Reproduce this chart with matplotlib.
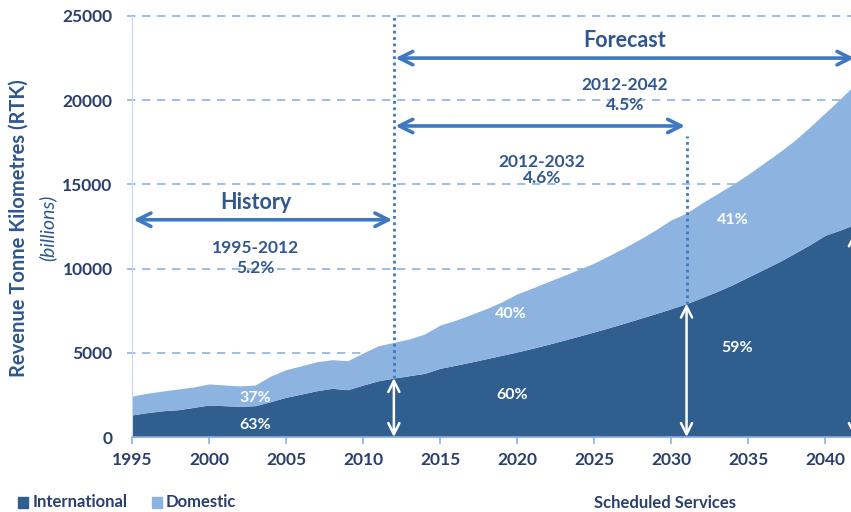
import matplotlib
matplotlib.use("agg")
import matplotlib.pyplot as plt
import numpy as np

years = list(range(1995, 2043))
international = [1310, 1450, 1560, 1620, 1760, 1900, 1860, 1820, 1860, 2100,
                 2360, 2550, 2750, 2890, 2810, 3090, 3340, 3500, 3640, 3780,
                 4080, 4260, 4450, 4650, 4850, 5050, 5270, 5500, 5740, 5990,
                 6240, 6500, 6770, 7050, 7330, 7620, 7920, 8280, 8650, 9050,
                 9500, 9950, 10400, 10900, 11420, 11980, 12300, 12650]
domestic = [1120, 1150, 1170, 1230, 1210, 1250, 1230, 1210, 1230, 1520,
            1640, 1680, 1720, 1700, 1720, 1900, 2080, 2120, 2180, 2340,
            2570, 2670, 2820, 2970, 3170, 3450, 3580, 3720, 3840, 3960,
            4090, 4290, 4490, 4710, 4970, 5280, 5380, 5620, 5800, 5950,
            6100, 6300, 6500, 6700, 6980, 7270, 7800, 8350]

x_ticks = [1995, 2000, 2005, 2010, 2015, 2020, 2025, 2030, 2035, 2040]
y_ticks = [0, 5000, 10000, 15000, 20000, 25000]

dark = "#305E8F"
light = "#8DB3E0"
navy = "#2B3F6E"
text_blue = "#2F5790"
arrow_blue = "#3D78C0"
grid_blue = "#8DB3E2"

plt.rcParams['font.family'] = ['Lato', 'DejaVu Sans']

fig = plt.figure(figsize=(8.51, 5.12), dpi=100)
ax = fig.add_axes([132/851, 75/512, 724/851, 421/512])

intl = np.array(international)
dom = np.array(domestic)
total = intl + dom

for yv in y_ticks[1:]:
    ax.plot([1994.7, 2042], [yv, yv], color=grid_blue, lw=1.2, ls=(0, (5, 4)),
            zorder=0, clip_on=False)

ax.fill_between(years, 0, intl, color=dark, lw=0, zorder=2)
ax.fill_between(years, intl, total, color=light, lw=0, zorder=2)

ax.set_xlim(1995, 2042)
ax.set_ylim(0, 25000)
ax.set_xticks(x_ticks)
ax.set_yticks(y_ticks)
ax.tick_params(axis='x', colors=grid_blue, length=5, width=1.2, pad=6,
               labelcolor=navy, labelsize=12.5)
ax.tick_params(axis='y', length=0, pad=14, labelcolor=navy, labelsize=12.5)
for lab in ax.get_xticklabels() + ax.get_yticklabels():
    lab.set_fontweight('bold')
for s in ['top', 'right']:
    ax.spines[s].set_visible(False)
ax.spines['left'].set_color('#C5D8F0')
ax.spines['bottom'].set_color(grid_blue)
ax.spines['bottom'].set_linewidth(1.2)

fig.text(0.022, 0.555, "Revenue Tonne Kilometres (RTK)", rotation=90,
         ha='center', va='center', fontsize=14.5, fontweight='bold', color=text_blue)
fig.text(0.056, 0.555, "(billions)", rotation=90, ha='center', va='center',
         fontsize=14, style='italic', color=text_blue)

# vertical dotted markers
i12 = years.index(2012)
ax.plot([2012, 2012], [intl[i12], 25000], color=arrow_blue, lw=2, ls=(0, (1, 1.3)), zorder=3)
i31 = years.index(2031)
ax.plot([2031, 2031], [intl[i31], 17900], color=arrow_blue, lw=2, ls=(0, (1, 1.3)), zorder=3)

def darrow(x0, x1, y0, y1, color, lw=2.6, ms=24):
    ax.annotate("", xy=(x1, y1), xytext=(x0, y0),
                arrowprops=dict(arrowstyle='<->', color=color, lw=lw,
                                mutation_scale=ms, shrinkA=0, shrinkB=0),
                zorder=4, annotation_clip=False)

darrow(1995.1, 2011.9, 12900, 12900, arrow_blue)
darrow(2012.1, 2041.9, 22500, 22500, arrow_blue)
darrow(2012.1, 2030.9, 18470, 18470, arrow_blue)
darrow(2012, 2012, 0, intl[i12], 'white', lw=1.8, ms=20)
darrow(2031, 2031, 0, intl[i31], 'white', lw=1.8, ms=20)
darrow(2041.9, 2041.9, 0, intl[-1] - 500, 'white', lw=1.8, ms=20)

def label(x, y, s, size=12.5, color=text_blue):
    ax.text(x, y, s, ha='center', va='center', fontsize=size,
            fontweight='bold', color=color, zorder=5)

label(2003.05, 13900, "History", size=15.5)
label(2003.0, 11220, "1995-2012")
label(2003.0, 10035, "5.2%")
label(2027.0, 23570, "Forecast", size=15.5)
label(2027.0, 20900, "2012-2042")
label(2027.0, 19700, "4.5%")
label(2021.6, 16330, "2012-2032")
label(2021.6, 15380, "4.6%")

for x, y, s in [(2003.0, 2310, "37%"), (2003.0, 710, "63%"),
                (2019.6, 7300, "40%"), (2019.7, 2490, "60%"),
                (2034.0, 12880, "41%"), (2034.3, 5280, "59%")]:
    label(x, y, s, size=11.5, color='white')

# legend row
fig.patches.append(plt.Rectangle((18/851, 1 - 508/512), 10/851, 11/512,
                                 transform=fig.transFigure, color=dark))
fig.text(33/851, 1 - 502/512, "International", va='center', fontsize=12,
         fontweight='bold', color=navy)
fig.patches.append(plt.Rectangle((152/851, 1 - 508/512), 10/851, 11/512,
                                 transform=fig.transFigure, color=light))
fig.text(166/851, 1 - 502/512, "Domestic", va='center', fontsize=12,
         fontweight='bold', color=navy)
fig.text(665/851, 1 - 503/512, "Scheduled Services", ha='center', va='center',
         fontsize=12, fontweight='bold', color=navy)

plt.savefig("out.png", dpi=100)
plt.close()
